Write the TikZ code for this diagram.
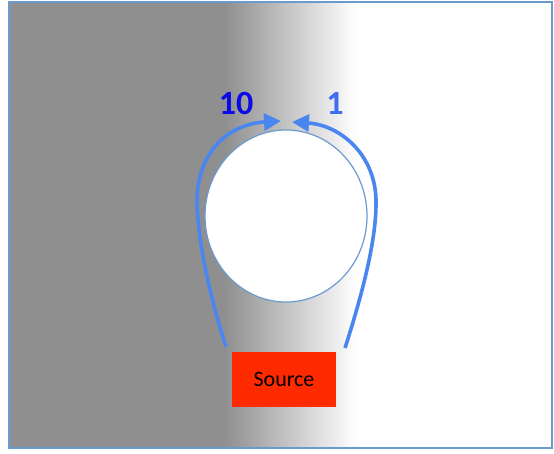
\documentclass[tikz,border=0pt]{standalone}
\usepackage{fontspec}
\setmainfont{Carlito}
\usetikzlibrary{arrows.meta,shapes.geometric}
\definecolor{bordblue}{HTML}{6A9AD0}
\definecolor{bggray}{HTML}{8F8F8F}
\definecolor{arrblue}{HTML}{4A86F0}
\definecolor{darkblue}{HTML}{0A0AE6}
\definecolor{midblue}{HTML}{3F6EF2}
\definecolor{srcred}{HTML}{FF2A00}
\tikzset{
  flow/.style={arrblue, line width=3.6pt, -{Triangle[length=17pt,width=17pt]}},
  lbl/.style={font=\fontsize{34}{34}\selectfont\bfseries, inner sep=0pt}
}
\begin{document}
\begin{tikzpicture}[x=1pt,y=-1pt]
\useasboundingbox (0,0) rectangle (554,453);
\fill[bggray] (9,2) rectangle (226,448);
\shade[left color=bggray, right color=white, shading angle=90] (225,2) rectangle (356,448);
\draw[bordblue, line width=2pt] (9,2) rectangle (552,448);
\node[draw=bordblue, line width=1.2pt, fill=white, ellipse, minimum width=162pt, minimum height=172pt, inner sep=0pt] (hole) at (286,216) {};
\node[fill=srcred, minimum width=104pt, minimum height=55pt, inner sep=0pt, font=\fontsize{22}{22}\selectfont] (src) at (284,379.5) {Source};
\node[lbl, darkblue] (ten) at (236,103) {10};
\node[lbl, midblue] (one) at (335,103) {1};
\coordinate (ls) at (226,347);
\coordinate (lk) at (197,202);
\coordinate (lt) at (281,121);
\coordinate (rs) at (345,348);
\coordinate (rk) at (376,204);
\coordinate (rt) at (292,122);
\draw[flow] (ls) .. controls (208,290) and (198,240) .. (lk) .. controls (197,150) and (230,124) .. (lt);
\draw[flow] (rs) .. controls (363,292) and (376,240) .. (rk) .. controls (377,155) and (340,125) .. (rt);
\end{tikzpicture}
\end{document}
